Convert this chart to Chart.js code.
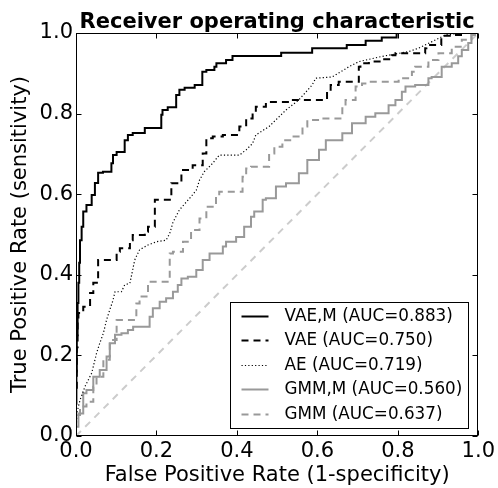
<!DOCTYPE html>
<html><head><meta charset="utf-8">
<script src="https://cdn.jsdelivr.net/npm/chart.js@4"></script>
<style>html,body{margin:0;padding:0;background:#fff;}</style>
</head><body>
<canvas id="c" width="498" height="488"></canvas>
<script>
// ---- data ----
const chartTitle = 'Receiver operating characteristic';
const seriesLabels = ["VAE,M (AUC=0.883)", "VAE (AUC=0.750)", "AE (AUC=0.719)", "GMM,M (AUC=0.560)", "GMM (AUC=0.637)"];
const tickValues = [0, 0.2, 0.4, 0.6, 0.8, 1.0];

const vaeM_fpr = [0, 0.001, 0.002, 0.004, 0.006, 0.008, 0.010, 0.014, 0.018, 0.026, 0.039, 0.047, 0.055, 0.067, 0.088, 0.092, 0.101, 0.121, 0.129, 0.141, 0.171, 0.187, 0.212, 0.215, 0.228, 0.249, 0.257, 0.270, 0.295, 0.314, 0.324, 0.344, 0.349, 0.373, 0.389, 0.510, 0.587, 0.673, 0.720, 0.760, 0.797, 0.800, 1.0];
const vaeM_tpr = [0, 0.08, 0.16, 0.25, 0.33, 0.38, 0.43, 0.486, 0.519, 0.557, 0.573, 0.598, 0.628, 0.653, 0.656, 0.677, 0.697, 0.705, 0.734, 0.747, 0.752, 0.764, 0.764, 0.797, 0.809, 0.816, 0.846, 0.859, 0.864, 0.871, 0.904, 0.908, 0.916, 0.925, 0.933, 0.943, 0.951, 0.962, 0.970, 0.981, 0.989, 1.0, 1.0];

const vae_fpr = [0, 0.002, 0.004, 0.006, 0.018, 0.035, 0.043, 0.055, 0.068, 0.101, 0.109, 0.134, 0.141, 0.171, 0.179, 0.196, 0.200, 0.237, 0.262, 0.290, 0.315, 0.324, 0.340, 0.365, 0.406, 0.423, 0.439, 0.447, 0.472, 0.530, 0.554, 0.624, 0.633, 0.653, 0.658, 0.703, 0.707, 0.728, 0.761, 0.785, 0.794, 0.868, 0.871, 0.908, 0.913, 0.942, 0.967, 1.0];
const vae_tpr = [0, 0.12, 0.22, 0.288, 0.305, 0.321, 0.355, 0.380, 0.437, 0.437, 0.457, 0.466, 0.486, 0.499, 0.507, 0.519, 0.586, 0.586, 0.627, 0.660, 0.672, 0.701, 0.739, 0.743, 0.747, 0.768, 0.788, 0.801, 0.817, 0.829, 0.834, 0.834, 0.854, 0.871, 0.879, 0.879, 0.916, 0.925, 0.929, 0.935, 0.945, 0.950, 0.962, 0.970, 0.987, 0.993, 0.995, 1.0];

const ae_fpr = [0, 0.002, 0.010, 0.022, 0.039, 0.051, 0.059, 0.068, 0.076, 0.084, 0.092, 0.097, 0.113, 0.121, 0.134, 0.146, 0.158, 0.179, 0.200, 0.224, 0.233, 0.241, 0.257, 0.286, 0.299, 0.307, 0.319, 0.340, 0.356, 0.406, 0.423, 0.439, 0.447, 0.480, 0.522, 0.554, 0.587, 0.596, 0.637, 0.678, 0.703, 0.761, 0.827, 0.851, 0.884, 0.918, 0.958, 1.0];
const ae_tpr = [0, 0.057, 0.089, 0.122, 0.156, 0.205, 0.230, 0.255, 0.288, 0.313, 0.337, 0.358, 0.358, 0.375, 0.379, 0.437, 0.462, 0.474, 0.482, 0.486, 0.503, 0.530, 0.561, 0.594, 0.610, 0.635, 0.656, 0.677, 0.697, 0.697, 0.710, 0.726, 0.747, 0.768, 0.809, 0.834, 0.871, 0.888, 0.891, 0.916, 0.929, 0.942, 0.954, 0.962, 0.978, 0.995, 1.0, 1.0];

const gmmM_fpr = [0, 0.000, 0.006, 0.018, 0.026, 0.043, 0.059, 0.076, 0.084, 0.097, 0.113, 0.129, 0.142, 0.158, 0.183, 0.191, 0.208, 0.224, 0.241, 0.253, 0.262, 0.278, 0.299, 0.315, 0.332, 0.365, 0.373, 0.398, 0.418, 0.435, 0.443, 0.464, 0.472, 0.497, 0.522, 0.554, 0.575, 0.604, 0.621, 0.662, 0.686, 0.720, 0.744, 0.777, 0.794, 0.810, 0.819, 0.843, 0.876, 0.884, 0.909, 0.934, 0.950, 0.959, 0.975, 0.983, 0.992, 1.0];
const gmmM_tpr = [0, 0.007, 0.023, 0.056, 0.106, 0.114, 0.147, 0.164, 0.197, 0.230, 0.251, 0.255, 0.263, 0.271, 0.271, 0.296, 0.317, 0.333, 0.342, 0.358, 0.375, 0.391, 0.395, 0.412, 0.437, 0.453, 0.470, 0.482, 0.494, 0.519, 0.544, 0.557, 0.586, 0.590, 0.619, 0.627, 0.652, 0.685, 0.710, 0.734, 0.751, 0.776, 0.792, 0.801, 0.821, 0.834, 0.854, 0.867, 0.871, 0.888, 0.891, 0.916, 0.925, 0.942, 0.958, 0.975, 0.995, 1.0];

const gmm_fpr = [0, 0.010, 0.026, 0.043, 0.051, 0.068, 0.084, 0.101, 0.117, 0.150, 0.158, 0.179, 0.191, 0.233, 0.241, 0.266, 0.286, 0.307, 0.324, 0.348, 0.356, 0.373, 0.414, 0.423, 0.435, 0.480, 0.493, 0.513, 0.538, 0.563, 0.575, 0.612, 0.662, 0.670, 0.695, 0.711, 0.728, 0.802, 0.835, 0.843, 0.876, 0.901, 0.934, 0.959, 0.983, 1.0];
const gmm_tpr = [0, 0.048, 0.073, 0.085, 0.122, 0.147, 0.189, 0.238, 0.288, 0.288, 0.329, 0.346, 0.383, 0.383, 0.453, 0.457, 0.482, 0.511, 0.540, 0.569, 0.594, 0.606, 0.606, 0.643, 0.664, 0.668, 0.701, 0.718, 0.734, 0.743, 0.768, 0.784, 0.788, 0.813, 0.834, 0.867, 0.875, 0.879, 0.888, 0.904, 0.916, 0.933, 0.950, 0.966, 0.983, 1.0];

const chance_fpr = [0, 1];
const chance_tpr = [0, 1];

// ---- chart ----
const zip = (xs, ys) => xs.map((x, i) => ({x: x, y: ys[i]}));
const FONT = 'DejaVu Sans';

const datasets = [
  {label: seriesLabels[0], data: zip(vaeM_fpr, vaeM_tpr), borderColor: '#000000', borderWidth: 2, borderDash: [], stepped: 'after', order: 0},
  {label: seriesLabels[1], data: zip(vae_fpr, vae_tpr), borderColor: '#000000', borderWidth: 2, borderDash: [7, 5], stepped: 'after', order: 1},
  {label: seriesLabels[2], data: zip(ae_fpr, ae_tpr), borderColor: '#000000', borderWidth: 1.2, borderDash: [1.2, 2.2], stepped: false, order: 2},
  {label: seriesLabels[3], data: zip(gmmM_fpr, gmmM_tpr), borderColor: '#999999', borderWidth: 2, borderDash: [], stepped: 'after', order: 3},
  {label: seriesLabels[4], data: zip(gmm_fpr, gmm_tpr), borderColor: '#999999', borderWidth: 2, borderDash: [7, 5], stepped: 'after', order: 4},
  {label: 'chance', data: zip(chance_fpr, chance_tpr), borderColor: '#cccccc', borderWidth: 2, borderDash: [7, 6], stepped: false, order: 5, isChance: true}
];
datasets.forEach(d => { d.pointRadius = 0; d.fill = false; d.tension = 0; d.borderCapStyle = 'butt'; });

const frameTicks = {
  id: 'frameTicks',
  afterDatasetsDraw(chart) {
    const {ctx, chartArea: a, scales: {x, y}} = chart;
    ctx.save();
    ctx.strokeStyle = '#000';
    ctx.lineWidth = 1;
    ctx.setLineDash([]);
    const L = Math.round(a.left) + 0.5, R = Math.round(a.right) - 0.5;
    const T = Math.round(a.top) + 0.5, B = Math.round(a.bottom) - 0.5;
    ctx.strokeRect(L, T, R - L, B - T);
    const len = 5;
    ctx.beginPath();
    tickValues.forEach(v => {
      const px = Math.round(x.getPixelForValue(v)) + 0.5;
      ctx.moveTo(px, B); ctx.lineTo(px, B - len);
      ctx.moveTo(px, T); ctx.lineTo(px, T + len);
      const py = Math.round(y.getPixelForValue(v)) + 0.5;
      ctx.moveTo(L, py); ctx.lineTo(L + len, py);
      ctx.moveTo(R, py); ctx.lineTo(R - len, py);
    });
    ctx.stroke();
    // title centred over the plot area
    ctx.fillStyle = '#000';
    ctx.font = 'bold 21px "' + FONT + '"';
    ctx.textAlign = 'center';
    ctx.textBaseline = 'alphabetic';
    ctx.fillText(chartTitle, (a.left + a.right) / 2, a.top - 5);
    ctx.restore();
  }
};

const innerLegend = {
  id: 'innerLegend',
  afterDraw(chart) {
    const {ctx, chartArea: a} = chart;
    const w = 238, h = 126;
    const bx = Math.round(a.right - 10 - w) + 0.5, by = Math.round(a.bottom - 8 - h) + 0.5;
    ctx.save();
    ctx.fillStyle = '#fff';
    ctx.fillRect(bx, by, w, h);
    ctx.strokeStyle = '#000';
    ctx.lineWidth = 1;
    ctx.setLineDash([]);
    ctx.strokeRect(bx, by, w, h);
    ctx.font = '16.8px "' + FONT + '"';
    ctx.textBaseline = 'middle';
    ctx.textAlign = 'left';
    chart.data.datasets.filter(d => !d.isChance).forEach((d, i) => {
      const cy = Math.round(by + 13.5 + i * 24.4) + 0.5;
      ctx.strokeStyle = d.borderColor;
      ctx.lineWidth = d.borderWidth;
      ctx.setLineDash(d.borderDash || []);
      ctx.beginPath();
      ctx.moveTo(bx + 11, cy);
      ctx.lineTo(bx + 38, cy);
      ctx.stroke();
      ctx.fillStyle = '#000';
      ctx.fillText(d.label, bx + 54, cy);
    });
    ctx.restore();
  }
};

const tickFont = {family: FONT, size: 21};

new Chart(document.getElementById('c'), {
  type: 'line',
  data: {datasets: datasets},
  plugins: [frameTicks, innerLegend],
  options: {
    responsive: false,
    animation: false,
    devicePixelRatio: 1,
    layout: {padding: {left: 0, right: 18, top: 33, bottom: 0}},
    plugins: {
      legend: {display: false},
      tooltip: {enabled: false},
      title: {display: false}
    },
    scales: {
      x: {
        type: 'linear', min: 0, max: 1,
        grid: {display: false, drawTicks: false},
        border: {display: false},
        afterBuildTicks: s => { s.ticks = tickValues.map(v => ({value: v})); },
        ticks: {font: tickFont, color: '#000', padding: 3, maxRotation: 0, autoSkip: false,
                callback: v => Number(v).toFixed(1)},
        title: {display: true, text: 'False Positive Rate (1-specificity)', color: '#000',
                font: tickFont, padding: {top: 0, bottom: 0}},
        afterFit: s => { s.height = 52; }
      },
      y: {
        type: 'linear', min: 0, max: 1,
        grid: {display: false, drawTicks: false},
        border: {display: false},
        afterBuildTicks: s => { s.ticks = tickValues.map(v => ({value: v})); },
        ticks: {font: tickFont, color: '#000', padding: 3, autoSkip: false,
                callback: v => Number(v).toFixed(1)},
        title: {display: true, text: 'True Positive Rate (sensitivity)', color: '#000',
                font: tickFont, padding: {top: 8, bottom: 0}},
        afterFit: s => { s.width = 76; }
      }
    }
  }
});
</script>
</body></html>
